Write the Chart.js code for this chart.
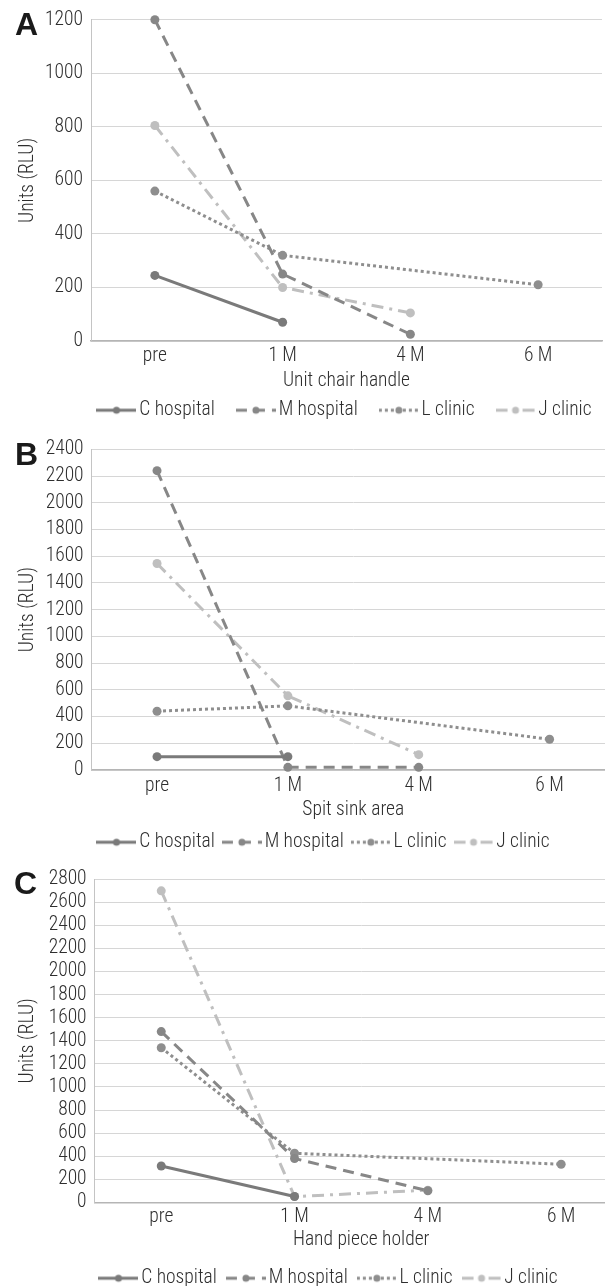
<!DOCTYPE html>
<html>
<head>
<meta charset="utf-8">
<script src="https://cdn.jsdelivr.net/npm/chart.js@4.4.1/dist/chart.umd.min.js"></script>
<style>
  html, body { margin: 0; padding: 0; background: #fff; overflow: hidden; }
  #wrap { position: relative; width: 605px; height: 1286px; overflow: hidden; background: #fff; }
  .panel { position: absolute; left: 0; }
  .letter { position: absolute; font: bold 32px "Liberation Sans", Arial, sans-serif; line-height: 32px; color: #1a1a1a; }
</style>
</head>
<body>
<div id="wrap">
  <div class="panel" style="top:0px"><canvas id="cA"></canvas></div>
  <div class="panel" style="top:420px"><canvas id="cB"></canvas></div>
  <div class="panel" style="top:850px"><canvas id="cC"></canvas></div>
  <div class="letter" style="left:15px; top:7.5px">A</div>
  <div class="letter" style="left:15px; top:437.5px">B</div>
  <div class="letter" style="left:14px; top:866.5px">C</div>
</div>
<script>
// ---------- data ----------
const categories = ['pre', '1 M', '4 M', '6 M'];
const seriesNames = ['C hospital', 'M hospital', 'L clinic', 'J clinic'];

// A: Unit chair handle
const chairC = [245, 70, null, null];
const chairM = [1200, 250, 25, null];
const chairL = [560, 320, null, 210];
const chairJ = [805, 200, 105, null];

// B: Spit sink area
const sinkC = [100, 100, null, null];
const sinkM = [2240, 20, 20, null];
const sinkL = [440, 480, null, 230];
const sinkJ = [1545, 555, 115, null];

// C: Hand piece holder
const holderC = [315, 50, null, null];
const holderM = [1480, 380, 100, null];
const holderL = [1340, 425, null, 330];
const holderJ = [2700, 50, 105, null];

const xTitles = ['Unit chair handle', 'Spit sink area', 'Hand piece holder'];
const yTitle = 'Units (RLU)';
const yMaxes = [1200, 2400, 2800];
const yStep = 200;

// ---------- styling ----------
const FS = 19.5;
const FONT = { family: 'Roboto, "Open Sans", sans-serif', size: FS, weight: '300 condensed' };
const LH = FS * 1.2;
const TXT = '#2e2e2e';
const styles = [
  { color: '#7a7a7a', dash: [] },
  { color: '#878787', dash: [11, 7] },
  { color: '#8e8e8e', dash: [3, 3] },
  { color: '#bfbfbf', dash: [12, 6, 3, 6] }
];

function sample(st) {
  const c = document.createElement('canvas');
  c.width = 40; c.height = 10;
  const g = c.getContext('2d');
  g.strokeStyle = st.color; g.lineWidth = 3;
  g.setLineDash(st.dash);
  g.beginPath(); g.moveTo(0, 5); g.lineTo(40, 5); g.stroke();
  g.setLineDash([]);
  g.fillStyle = st.color;
  g.beginPath(); g.arc(20, 5, 3.5, 0, Math.PI * 2); g.fill();
  return c;
}

const layouts = [
  { W: 695, H: 430, plotTop: 17.5, plotBottom: 341, plotLeft: 91, plotRight: 602, legendPad: 28, titleCenter: 381.5, tickPad: 3.3 },
  { W: 653, H: 442, plotTop: 29.3, plotBottom: 350, plotLeft: 91.6, plotRight: 615, legendPad: 14, titleCenter: 390.5, tickPad: 4.8 },
  { W: 663, H: 448, plotTop: 29.3, plotBottom: 352.3, plotLeft: 94.6, plotRight: 627.8, legendPad: 16, titleCenter: 390.5, tickPad: 3.3 }
];

function makeChart(id, idx, values) {
  const L = layouts[idx];
  const cv = document.getElementById(id);
  cv.width = L.W; cv.height = L.H;
  cv.style.width = L.W + 'px'; cv.style.height = L.H + 'px';
  const legendTop = L.H - (FS + 10) - L.legendPad;
  const hx = legendTop - L.plotBottom;
  const titlePadBottom = legendTop - LH / 2 - L.titleCenter;
  const yTitlePad = 28 - LH / 2;

  const datasets = values.map((v, i) => ({
    label: seriesNames[i],
    data: v,
    borderColor: styles[i].color,
    backgroundColor: styles[i].color,
    borderWidth: 3,
    borderDash: styles[i].dash,
    pointRadius: 4.5,
    pointHoverRadius: 4.5,
    pointBorderWidth: 0,
    pointBackgroundColor: styles[i].color,
    spanGaps: true,
    tension: 0,
    clip: false,
    fill: false
  }));

  new Chart(cv, {
    type: 'line',
    data: { labels: categories, datasets },
    options: {
      responsive: false,
      animation: false,
      devicePixelRatio: 1,
      layout: { padding: { top: L.plotTop, left: 0, right: 0, bottom: 0 } },
      plugins: {
        tooltip: { enabled: false },
        legend: {
          position: 'bottom',
          align: 'center',
          labels: {
            usePointStyle: true,
            pointStyleWidth: 26,
            padding: L.legendPad,
            color: TXT,
            font: FONT,
            generateLabels: (chart) => chart.data.datasets.map((ds, i) => ({
              text: ds.label,
              pointStyle: sample(styles[i]),
              fillStyle: ds.borderColor,
              strokeStyle: ds.borderColor,
              lineWidth: 0,
              hidden: false,
              datasetIndex: i,
              fontColor: TXT
            }))
          }
        }
      },
      scales: {
        x: {
          type: 'category',
          offset: true,
          grid: { display: false, drawTicks: false },
          border: { display: true, color: '#b5b5b5', width: 1.5 },
          ticks: { color: TXT, font: FONT, padding: L.tickPad, maxRotation: 0, autoSkip: false },
          title: { display: true, text: xTitles[idx], color: TXT, font: FONT, padding: { top: 0, bottom: titlePadBottom } },
          afterFit: (s) => { s.height = hx; }
        },
        y: {
          type: 'linear',
          position: 'left',
          min: 0,
          max: yMaxes[idx],
          ticks: { stepSize: yStep, autoSkip: false, color: TXT, font: FONT, padding: 8, callback: (v) => String(v) },
          grid: { color: '#d6d6d6', lineWidth: 1, drawTicks: false },
          border: { display: true, color: '#c4c4c4', width: 1 },
          title: { display: true, text: yTitle, color: TXT, font: FONT, padding: { top: yTitlePad, bottom: 0 } },
          afterFit: (s) => { s.width = L.plotLeft; }
        },
        yR: {
          type: 'linear',
          position: 'right',
          display: true,
          ticks: { display: false },
          grid: { display: false, drawTicks: false },
          border: { display: false },
          title: { display: false },
          afterFit: (s) => { s.width = L.W - L.plotRight; }
        }
      }
    }
  });
}

makeChart('cA', 0, [chairC, chairM, chairL, chairJ]);
makeChart('cB', 1, [sinkC, sinkM, sinkL, sinkJ]);
makeChart('cC', 2, [holderC, holderM, holderL, holderJ]);
</script>
</body>
</html>
